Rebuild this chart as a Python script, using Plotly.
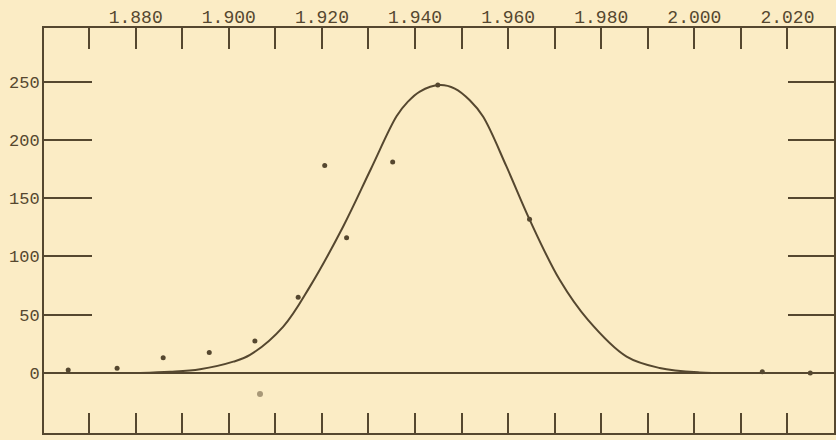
import plotly.graph_objects as go

# Smooth curve
curve_x = [1.88094, 1.88738, 1.89382, 1.90097, 1.90455, 1.91170, 1.91742, 1.92457, 1.93052,
           1.93603, 1.93852, 1.94103, 1.94532, 1.94854, 1.95176, 1.95461, 1.95964, 1.96464,
           1.97107, 1.97715, 1.98545, 1.99253, 2.00112, 2.00970]
curve_y = [0, 1, 3.2, 9.7, 15.5, 39.8, 74.1, 125.7, 175,
           220.2, 233, 241.5, 247, 244, 234, 220, 177.2, 131.4,
           79.9, 45.5, 14, 4.3, 0.5, 0]

# Observed points
pts_x = [1.8655, 1.8760, 1.8859, 1.8958, 1.9056, 1.9149, 1.9206, 1.9253, 1.9352, 1.9449,
         1.9646, 2.0146, 2.0249]
pts_y = [2.5, 4, 13, 17.5, 27.5, 65, 178, 116, 181, 247, 132, 1, 0]

faint_x = [1.9067]
faint_y = [-18]

x_ticks = [round(1.87 + 0.01 * i, 3) for i in range(16)]
x_labels = ["", "1.880", "", "1.900", "", "1.920", "", "1.940", "", "1.960", "",
            "1.980", "", "2.000", "", "2.020"]
y_ticks = [0, 50, 100, 150, 200, 250]
y_labels = ["0", "50", "100", "150", "200", "250"]

INK = "#55472f"
PAPER = "#fbecc5"
FONT = "Liberation Mono"

fig = go.Figure()
fig.add_trace(go.Scatter(x=curve_x, y=curve_y, mode="lines",
                         line=dict(color=INK, width=2, shape="spline", smoothing=1.0),
                         xaxis="x", yaxis="y", showlegend=False))
fig.add_trace(go.Scatter(x=pts_x, y=pts_y, mode="markers", marker=dict(color=INK, size=5),
                         xaxis="x", yaxis="y", showlegend=False))
fig.add_trace(go.Scatter(x=faint_x, y=faint_y, mode="markers", marker=dict(color="#a89878", size=6),
                         xaxis="x", yaxis="y", showlegend=False))
# invisible trace to activate secondary axes
fig.add_trace(go.Scatter(x=[1.95], y=[0], mode="markers", marker=dict(opacity=0),
                         xaxis="x2", yaxis="y2", showlegend=False, hoverinfo="skip"))

xr = [1.8603, 2.0300]
yr = [-51.5, 296]

fig.update_layout(
    width=836, height=440,
    margin=dict(l=44, r=2, t=28, b=7),
    paper_bgcolor=PAPER, plot_bgcolor=PAPER,
    xaxis=dict(range=xr, tickvals=x_ticks, ticktext=[""] * len(x_ticks), ticks="inside",
               ticklen=20, tickwidth=2, tickcolor=INK, showgrid=False, zeroline=False,
               showline=True, linecolor=INK, linewidth=2, automargin=False),
    xaxis2=dict(range=xr, overlaying="x", side="top", tickvals=x_ticks, ticktext=x_labels,
                ticks="inside", ticklen=21, tickwidth=2, tickcolor=INK, showgrid=False,
                zeroline=False, showline=True, linecolor=INK, linewidth=2, automargin=False,
                tickfont=dict(family=FONT, size=18, color=INK), ticklabelstandoff=-4),
    yaxis=dict(range=yr, tickvals=y_ticks, ticktext=y_labels, ticks="inside", ticklen=48,
               tickwidth=2, tickcolor=INK, showgrid=False, zeroline=True, zerolinecolor=INK,
               zerolinewidth=2, showline=True, linecolor=INK, linewidth=2, automargin=False,
               tickfont=dict(family=FONT, size=17, color=INK), ticklabelstandoff=-1),
    yaxis2=dict(range=yr, overlaying="y", side="right", tickvals=y_ticks, showticklabels=False,
                ticks="inside", ticklen=46, tickwidth=2, tickcolor=INK, showgrid=False,
                zeroline=False, showline=True, linecolor=INK, linewidth=2, automargin=False),
)

fig.write_html("out.html", config={"displayModeBar": False},
               post_script="document.body.style.margin='0';")
